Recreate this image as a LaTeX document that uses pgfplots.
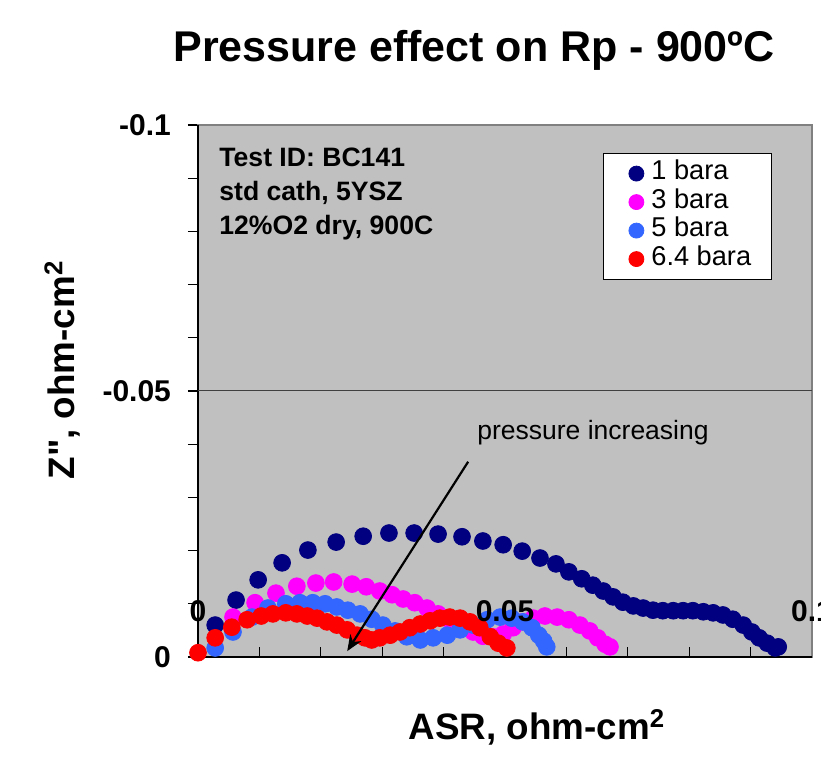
\documentclass[border=0pt]{standalone}
\usepackage{fontspec}
\setmainfont{Liberation Sans}
\usepackage{pgfplots}
\pgfplotsset{compat=1.18}
\usetikzlibrary{arrows.meta}

\definecolor{xlgray}{HTML}{C0C0C0}
\definecolor{xlframe}{HTML}{808080}
\definecolor{bar1}{HTML}{000080}
\definecolor{bar3}{HTML}{FF00FF}
\definecolor{bar5}{HTML}{3366FF}
\definecolor{bar64}{HTML}{FF0000}

\begin{document}
\begin{tikzpicture}
\begin{axis}[
  set layers,
  scale only axis, width=307pt, height=266pt,
  xmin=0, xmax=0.1, ymin=-0.1, ymax=0, y dir=reverse,
  clip=false,
  axis background/.style={fill=xlgray},
  axis line style={xlframe, line width=0.6pt},
  xtick={0,0.05,0.1}, xticklabels={,,}, minor x tick num=4,
  ytick={-0.1,-0.05,0}, yticklabels={-0.1,-0.05,0}, minor y tick num=4,
  xtick pos=bottom, ytick pos=left,
  tick align=outside,
  major tick length=5pt, minor tick length=5pt,
  tick style={black, line width=0.6pt},
  xtick style={yshift=5pt},
  ticklabel style={font=\bfseries\fontsize{15}{18}\selectfont},
  yticklabel style={xshift=-5pt},
  legend cell align=left,
  legend style={at={(0.6596,0.947)}, anchor=north west, draw=black, fill=white,
    font=\fontsize{13.6}{16}\selectfont, row sep=1.25pt, inner xsep=4pt, inner ysep=3.5pt,
    nodes={inner sep=0pt, text height=9.6pt, text depth=3.4pt}},
  legend image code/.code={\path[draw=none,fill=none] (0pt,0pt) rectangle (20pt,0.1pt);
    \draw[#1,only marks,mark size=3.75pt] plot coordinates {(12.5pt,0pt)};},
  every axis plot/.append style={only marks, mark=*, mark size=4.2pt},
]
\draw[black, line width=0.6pt] (axis cs:0,0) -- (axis cs:0,-0.1);
\draw[black, line width=0.6pt] (axis cs:0,0) -- (axis cs:0.1,0);
\draw[black!75, line width=0.5pt] (axis cs:0,-0.05) -- (axis cs:0.1,-0.05);

\addplot[bar1, mark options={fill=bar1, draw=bar1}] coordinates {
 (0.0028,-0.0060) (0.0062,-0.0107) (0.0098,-0.0145) (0.0137,-0.0177)
 (0.0179,-0.0201) (0.0225,-0.0216) (0.0269,-0.0227) (0.0311,-0.0233)
 (0.0352,-0.0233) (0.0391,-0.0231) (0.0430,-0.0226) (0.0464,-0.0218)
 (0.0497,-0.0211) (0.0528,-0.0199) (0.0557,-0.0186) (0.0583,-0.0175)
 (0.0604,-0.0160) (0.0625,-0.0147) (0.0643,-0.0135) (0.0660,-0.0124)
 (0.0676,-0.0113) (0.0692,-0.0103) (0.0709,-0.0096) (0.0725,-0.0092)
 (0.0741,-0.0088) (0.0757,-0.0087) (0.0774,-0.0087) (0.0790,-0.0087)
 (0.0806,-0.0087) (0.0823,-0.0085) (0.0839,-0.0083) (0.0855,-0.0079)
 (0.0871,-0.0071) (0.0888,-0.0060) (0.0902,-0.0047) (0.0914,-0.0036)
 (0.0927,-0.0026) (0.0940,-0.0017) (0.0945,-0.0019)};
\addlegendentry{1 bara}
\addplot[bar3, mark options={fill=bar3, draw=bar3}] coordinates {
 (0.0057,-0.0075) (0.0093,-0.0102) (0.0127,-0.0120) (0.0161,-0.0133)
 (0.0192,-0.0139) (0.0221,-0.0141) (0.0251,-0.0137) (0.0274,-0.0132)
 (0.0296,-0.0124) (0.0316,-0.0117) (0.0334,-0.0109) (0.0353,-0.0102)
 (0.0373,-0.0092) (0.0391,-0.0081) (0.0410,-0.0070) (0.0430,-0.0058)
 (0.0448,-0.0047) (0.0464,-0.0039) (0.0480,-0.0038) (0.0497,-0.0043)
 (0.0513,-0.0055) (0.0529,-0.0066) (0.0546,-0.0073) (0.0565,-0.0077)
 (0.0585,-0.0075) (0.0604,-0.0070) (0.0622,-0.0060) (0.0638,-0.0049)
 (0.0651,-0.0036) (0.0663,-0.0024) (0.0671,-0.0019)};
\addlegendentry{3 bara}
\addplot[bar5, mark options={fill=bar5, draw=bar5}] coordinates {
 (0.0028,-0.0017) (0.0057,-0.0047) (0.0088,-0.0075) (0.0114,-0.0092)
 (0.0143,-0.0100) (0.0166,-0.0102) (0.0187,-0.0102) (0.0207,-0.0100)
 (0.0226,-0.0094) (0.0244,-0.0088) (0.0264,-0.0081) (0.0283,-0.0071)
 (0.0301,-0.0060) (0.0321,-0.0049) (0.0340,-0.0038) (0.0362,-0.0032)
 (0.0383,-0.0036) (0.0406,-0.0041) (0.0427,-0.0051) (0.0448,-0.0060)
 (0.0471,-0.0070) (0.0492,-0.0075) (0.0511,-0.0073) (0.0529,-0.0066)
 (0.0544,-0.0055) (0.0555,-0.0041) (0.0563,-0.0030) (0.0568,-0.0019)};
\addlegendentry{5 bara}
\addplot[bar64, mark options={fill=bar64, draw=bar64}] coordinates {
 (0.0000,-0.0008) (0.0028,-0.0036) (0.0055,-0.0056) (0.0080,-0.0070)
 (0.0103,-0.0077) (0.0122,-0.0081) (0.0143,-0.0083) (0.0161,-0.0081)
 (0.0178,-0.0077) (0.0194,-0.0073) (0.0210,-0.0066) (0.0226,-0.0060)
 (0.0243,-0.0051) (0.0259,-0.0041) (0.0272,-0.0036) (0.0283,-0.0032)
 (0.0296,-0.0036) (0.0313,-0.0041) (0.0329,-0.0047) (0.0345,-0.0055)
 (0.0362,-0.0062) (0.0378,-0.0068) (0.0394,-0.0073) (0.0410,-0.0075)
 (0.0427,-0.0073) (0.0443,-0.0066) (0.0459,-0.0055) (0.0476,-0.0038)
 (0.0489,-0.0026) (0.0503,-0.0017)};
\addlegendentry{6.4 bara\rule{6pt}{0pt}}

% x tick labels sit inside the plot, over the markers, as in the original
\begin{pgfonlayer}{axis foreground}
\node[font=\bfseries\fontsize{15}{18}\selectfont] at ([yshift=23pt]axis cs:0,0) {0};
\node[font=\bfseries\fontsize{15}{18}\selectfont] at ([yshift=23pt]axis cs:0.05,0) {0.05};
\node[font=\bfseries\fontsize{15}{18}\selectfont] at ([yshift=23pt]axis cs:0.1,0) {0.1};
\draw[-{Stealth[length=8pt,width=6.5pt]}, line width=1.1pt]
  (axis cs:0.0440,-0.0367) -- (axis cs:0.0243,-0.0011);
\end{pgfonlayer}
\end{axis}

\pgfresetboundingbox
\begin{scope}[shift={(current axis.south west)}, xshift=-99pt, yshift=328.5pt, x=0.5pt, y=-0.5pt]
  \path[use as bounding box] (0,0) rectangle (821,758);
  \node[font=\bfseries\fontsize{21.5}{24}\selectfont] at (474,50) {Pressure effect on Rp - 900ºC};
  \node[font=\bfseries\fontsize{18.4}{21}\selectfont, anchor=base] at (537,740) {ASR, ohm-cm\textsuperscript{2}};
  \node[font=\bfseries\fontsize{18.4}{21}\selectfont, anchor=base, rotate=90] at (75,370) {Z\textquotedbl, ohm-cm\textsuperscript{2}};
  \begin{scope}[every node/.style={font=\bfseries\fontsize{13.3}{16}\selectfont, anchor=base west, inner sep=0pt}]
    \node at (219,167) {Test ID: BC141};
    \node at (219,201) {std cath, 5YSZ};
    \node at (219,235) {12\%O2 dry, 900C};
  \end{scope}
  \node[font=\fontsize{13.25}{16}\selectfont, anchor=base west, inner sep=0pt] at (477,440) {pressure increasing};
\end{scope}
\end{tikzpicture}
\end{document}
